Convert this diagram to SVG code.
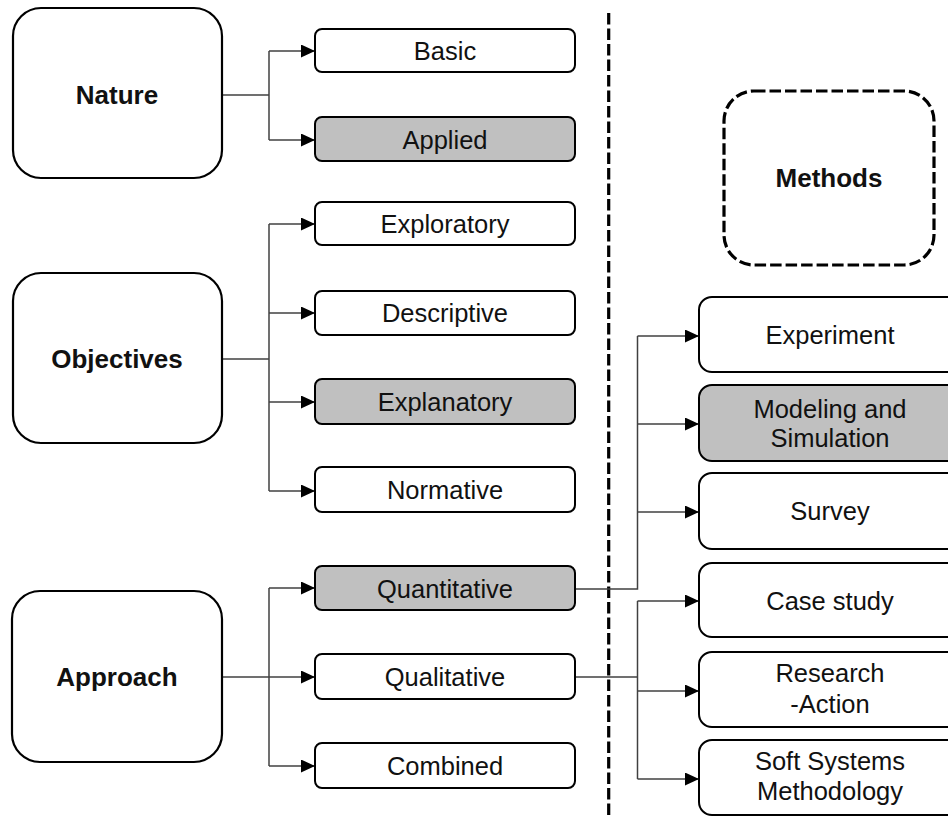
<svg xmlns="http://www.w3.org/2000/svg" width="948" height="816" viewBox="0 0 948 816">
<style>
.big{fill:#fff;stroke:#000;stroke-width:2.2}
.sm{fill:#fff;stroke:#000;stroke-width:2}
.hl{fill:#c0c0c0}
.t{font-family:"Liberation Sans",Arial,sans-serif;font-size:25.5px;fill:#111;text-anchor:middle}
.b{font-weight:bold;font-size:26px}
.c{fill:none;stroke:#404040;stroke-width:1.5}
.d{fill:none;stroke:#000;stroke-width:3.2;stroke-dasharray:11.5 4}
</style>
<defs>
<marker id="ah" markerUnits="userSpaceOnUse" markerWidth="15" markerHeight="14" refX="14" refY="6.5" orient="auto">
<path d="M0,0 L14,6.5 L0,13 z" fill="#000"/>
</marker>
</defs>
<rect width="948" height="816" fill="#fff"/>
<line id="divider" class="d" x1="608.7" y1="13" x2="608.7" y2="816"/>
<g id="connectors">
<path class="c" d="M222,95 H269"/>
<path class="c" d="M269,51 V140"/>
<path class="c" d="M269,51 H315" marker-end="url(#ah)"/>
<path class="c" d="M269,140 H315" marker-end="url(#ah)"/>
<path class="c" d="M222,359 H269"/>
<path class="c" d="M269,224 V491"/>
<path class="c" d="M269,224 H315" marker-end="url(#ah)"/>
<path class="c" d="M269,313 H315" marker-end="url(#ah)"/>
<path class="c" d="M269,402 H315" marker-end="url(#ah)"/>
<path class="c" d="M269,491 H315" marker-end="url(#ah)"/>
<path class="c" d="M222,677 H269"/>
<path class="c" d="M269,588 V766"/>
<path class="c" d="M269,588 H315" marker-end="url(#ah)"/>
<path class="c" d="M269,677 H315" marker-end="url(#ah)"/>
<path class="c" d="M269,766 H315" marker-end="url(#ah)"/>
<path class="c" d="M575,589 H637.5 V336"/>
<path class="c" d="M637.5,336 H699" marker-end="url(#ah)"/>
<path class="c" d="M637.5,424 H699" marker-end="url(#ah)"/>
<path class="c" d="M637.5,512 H699" marker-end="url(#ah)"/>
<path class="c" d="M575,677 H637.5"/>
<path class="c" d="M637.5,601 V779"/>
<path class="c" d="M637.5,601 H699" marker-end="url(#ah)"/>
<path class="c" d="M637.5,691 H699" marker-end="url(#ah)"/>
<path class="c" d="M637.5,779 H699" marker-end="url(#ah)"/>
</g>
<g id="nature"><rect class="big" x="13" y="8" width="209" height="170" rx="28"/><text class="t b" x="117" y="104">Nature</text></g>
<g id="objectives"><rect class="big" x="13" y="273" width="209" height="170" rx="28"/><text class="t b" x="117" y="368">Objectives</text></g>
<g id="approach"><rect class="big" x="12" y="591" width="210" height="171" rx="28"/><text class="t b" x="117" y="686">Approach</text></g>
<g id="basic"><rect class="sm" x="315" y="29" width="260" height="43" rx="7"/><text class="t" x="445" y="60">Basic</text></g>
<g id="applied"><rect class="sm hl" x="315" y="117" width="260" height="44" rx="7"/><text class="t" x="445" y="149">Applied</text></g>
<g id="exploratory"><rect class="sm" x="315" y="202" width="260" height="43" rx="7"/><text class="t" x="445" y="233">Exploratory</text></g>
<g id="descriptive"><rect class="sm" x="315" y="291" width="260" height="44" rx="7"/><text class="t" x="445" y="322">Descriptive</text></g>
<g id="explanatory"><rect class="sm hl" x="315" y="379" width="260" height="45" rx="7"/><text class="t" x="445" y="411">Explanatory</text></g>
<g id="normative"><rect class="sm" x="315" y="467" width="260" height="45" rx="7"/><text class="t" x="445" y="499">Normative</text></g>
<g id="quantitative"><rect class="sm hl" x="315" y="566" width="260" height="44" rx="7"/><text class="t" x="445" y="598">Quantitative</text></g>
<g id="qualitative"><rect class="sm" x="315" y="654" width="260" height="45" rx="7"/><text class="t" x="445" y="686">Qualitative</text></g>
<g id="combined"><rect class="sm" x="315" y="743" width="260" height="45" rx="7"/><text class="t" x="445" y="775">Combined</text></g>
<g id="methods"><rect class="d" x="724" y="91" width="210" height="174" rx="30"/><text class="t b" x="829" y="187">Methods</text></g>
<g id="experiment"><rect class="sm" x="699" y="297" width="262" height="75" rx="13"/><text class="t" x="830" y="344">Experiment</text></g>
<g id="modeling"><rect class="sm hl" x="699" y="385" width="262" height="76" rx="13"/><text class="t" x="830" y="418">Modeling and</text><text class="t" x="830" y="447">Simulation</text></g>
<g id="survey"><rect class="sm" x="699" y="473" width="262" height="76" rx="13"/><text class="t" x="830" y="520">Survey</text></g>
<g id="casestudy"><rect class="sm" x="699" y="563" width="262" height="74" rx="13"/><text class="t" x="830" y="610">Case study</text></g>
<g id="research"><rect class="sm" x="699" y="652" width="262" height="75" rx="13"/><text class="t" x="830" y="682">Research</text><text class="t" x="830" y="713">-Action</text></g>
<g id="ssm"><rect class="sm" x="699" y="740" width="262" height="75" rx="13"/><text class="t" x="830" y="770">Soft Systems</text><text class="t" x="830" y="800">Methodology</text></g>
</svg>
